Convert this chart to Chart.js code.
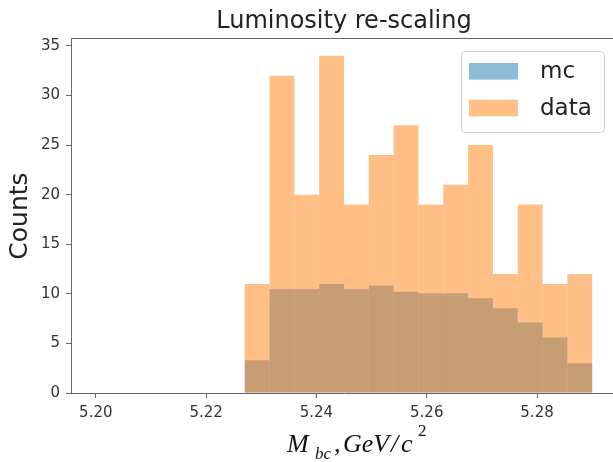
<!DOCTYPE html>
<html>
<head>
<meta charset="utf-8">
<script src="https://cdn.jsdelivr.net/npm/chart.js@4/dist/chart.umd.min.js"></script>
<style>
  html, body { margin: 0; padding: 0; background: #fff; overflow: hidden; }
  #wrap { position: absolute; left: 0; top: 0; width: 618px; height: 462px; }
</style>
</head>
<body>
<div id="wrap"><canvas id="c" width="618" height="462"></canvas></div>
<script>
// ---- data ----
const binEdges = [5.2270, 5.2315, 5.2360, 5.2405, 5.2450, 5.2495, 5.2540, 5.2585,
                  5.2630, 5.2675, 5.2720, 5.2765, 5.2810, 5.2855, 5.2900];
const mcCounts   = [3.3, 10.5, 10.5, 11.0, 10.5, 10.85, 10.2, 10.05, 10.05, 9.55, 8.55, 7.1, 5.6, 3.0];
const dataCounts = [11, 32, 20, 34, 19, 24, 27, 19, 21, 25, 12, 19, 11, 12];
const xTicks = [5.20, 5.22, 5.24, 5.26, 5.28];
const yTicks = [0, 5, 10, 15, 20, 25, 30, 35];
const seriesLabels = ['mc', 'data'];
const titleText = 'Luminosity re-scaling';
const yLabelText = 'Counts';

const binCenters = binEdges.slice(0, -1).map((e, i) => (e + binEdges[i + 1]) / 2);
const toPoints = arr => arr.map((v, i) => ({ x: binCenters[i], y: v }));

const colors = ['rgba(31,119,180,0.5)', 'rgba(255,127,14,0.5)'];

const decorPlugin = {
  id: 'decor',
  afterDraw(chart) {
    const ctx = chart.ctx;
    const a = chart.chartArea;
    ctx.save();
    // top spine
    ctx.strokeStyle = '#666';
    ctx.lineWidth = 1;
    ctx.beginPath();
    ctx.moveTo(a.left, 38.5);
    ctx.lineTo(a.right, 38.5);
    ctx.stroke();

    // title
    ctx.fillStyle = '#222';
    ctx.font = '24px "DejaVu Sans"';
    ctx.textAlign = 'center';
    ctx.textBaseline = 'alphabetic';
    ctx.fillText(titleText, (a.left + a.right) / 2, 28);

    // y label
    ctx.save();
    ctx.translate(27, (a.top + a.bottom) / 2);
    ctx.rotate(-Math.PI / 2);
    ctx.font = '25px "DejaVu Sans"';
    ctx.fillStyle = '#222';
    ctx.textAlign = 'center';
    ctx.textBaseline = 'alphabetic';
    ctx.fillText(yLabelText, 0, 0);
    ctx.restore();

    // x label  M_{bc}, GeV/c^2
    const serif = '"Liberation Serif", "Times New Roman", serif';
    const base = 451.5;
    const parts = [
      { t: 'M',   f: 'italic 26px ' + serif, x: 287, dy: 0 },
      { t: 'bc',  f: 'italic 17px ' + serif, x: 315, dy: 7.5 },
      { t: ',',   f: '26px ' + serif,        x: 334, dy: 0 },
      { t: 'GeV', f: 'italic 26px ' + serif, x: 343, dy: 0 },
      { t: '/',   f: 'italic 26px ' + serif, x: 391, dy: 0 },
      { t: 'c',   f: 'italic 26px ' + serif, x: 401, dy: 0 },
      { t: '2',   f: '17px ' + serif,        x: 418, dy: -15.5 }
    ];
    ctx.textAlign = 'left';
    ctx.fillStyle = '#111';
    for (const p of parts) {
      ctx.font = p.f;
      ctx.fillText(p.t, p.x, base + p.dy);
    }

    // legend
    const lx = 461, ly = 51, lw = 143, lh = 81;
    ctx.beginPath();
    if (ctx.roundRect) ctx.roundRect(lx + 0.5, ly + 0.5, lw, lh, 4);
    else ctx.rect(lx + 0.5, ly + 0.5, lw, lh);
    ctx.fillStyle = 'rgba(255,255,255,0.8)';
    ctx.fill();
    ctx.strokeStyle = '#d0d0d0';
    ctx.lineWidth = 1;
    ctx.stroke();
    const rows = [71.3, 108];
    chart.data.datasets.forEach((ds, i) => {
      const cy = rows[i];
      ctx.fillStyle = ds.backgroundColor;
      ctx.fillRect(469, cy - 8.3, 49, 16.6);
      ctx.fillStyle = '#222';
      ctx.font = '23px "DejaVu Sans"';
      ctx.textAlign = 'left';
      ctx.textBaseline = 'middle';
      ctx.fillText(ds.label, 540, cy + 1);
    });
    ctx.restore();
  }
};

new Chart(document.getElementById('c'), {
  type: 'bar',
  data: {
    datasets: [
      { label: seriesLabels[0], data: toPoints(mcCounts), backgroundColor: colors[0],
        borderWidth: 0, grouped: false, order: 1, inflateAmount: 0,
        barPercentage: 1, categoryPercentage: 1 },
      { label: seriesLabels[1], data: toPoints(dataCounts), backgroundColor: colors[1],
        borderWidth: 0, grouped: false, order: 0, inflateAmount: 0,
        barPercentage: 1, categoryPercentage: 1 }
    ]
  },
  options: {
    responsive: false,
    animation: false,
    devicePixelRatio: 1,
    layout: { padding: { top: 39, left: 0, right: 1, bottom: 0 } },
    plugins: { legend: { display: false }, title: { display: false }, tooltip: { enabled: false } },
    scales: {
      x: {
        type: 'linear',
        offset: false,
        min: 5.1955, max: 5.2945,
        afterFit(s) { s.height = 69; },
        afterBuildTicks(s) { s.ticks = xTicks.map(v => ({ value: v })); },
        grid: { offset: false, drawOnChartArea: false, drawTicks: true, tickLength: 5, color: '#666' },
        border: { display: true, color: '#666', width: 1 },
        ticks: { color: '#333', font: { family: 'DejaVu Sans', size: 15 }, padding: 6,
                 maxRotation: 0, autoSkip: false,
                 callback: v => v.toFixed(2) }
      },
      y: {
        type: 'linear',
        min: 0, max: 35.7,
        stacked: false,
        afterFit(s) { s.width = 71; },
        afterBuildTicks(s) { s.ticks = yTicks.map(v => ({ value: v })); },
        grid: { drawOnChartArea: false, drawTicks: true, tickLength: 5, color: '#666' },
        border: { display: true, color: '#666', width: 1 },
        ticks: { color: '#333', font: { family: 'DejaVu Sans', size: 15 }, padding: 6,
                 callback: v => String(v) }
      }
    }
  },
  plugins: [decorPlugin]
});
</script>
</body>
</html>
